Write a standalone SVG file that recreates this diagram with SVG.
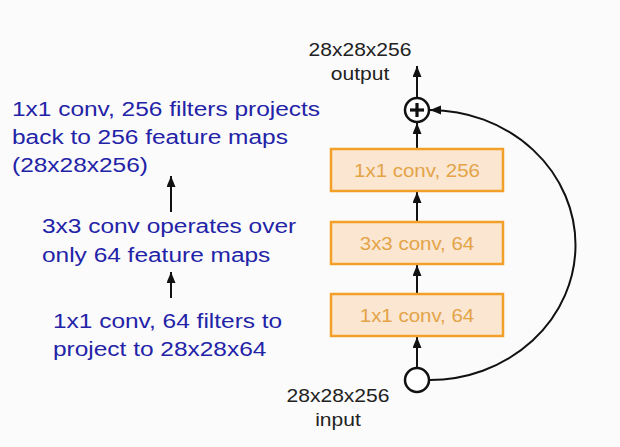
<svg xmlns="http://www.w3.org/2000/svg" width="620" height="447" viewBox="0 0 620 447">
  <defs>
    <marker id="ah" markerUnits="userSpaceOnUse" markerWidth="12" markerHeight="10" refX="11" refY="4.5" orient="auto">
      <path d="M0,0 L11,4.5 L0,9 z" fill="#111"/>
    </marker>
    <style>
      .box rect { fill: #fbe6d2; stroke: #f2a02a; stroke-width: 2.5; }
      .box text { font-family: "Liberation Sans", Arial, sans-serif; font-size: 17.5px; fill: #e3a447; text-anchor: middle; }
      .lbl { font-family: "Liberation Sans", Arial, sans-serif; font-size: 18px; fill: #222; text-anchor: middle; }
      .note { font-family: "Liberation Sans", Arial, sans-serif; font-size: 21px; fill: #2323a8; }
      .conn line, .conn path { stroke: #111; stroke-width: 2; fill: none; }
    </style>
  </defs>
  <rect width="620" height="447" fill="#fbfbfb"/>

  <g id="connectors" class="conn">
    <line x1="417" y1="98" x2="417" y2="66" marker-end="url(#ah)"/>
    <line x1="417" y1="149" x2="417" y2="123" marker-end="url(#ah)"/>
    <line x1="417" y1="222" x2="417" y2="192" marker-end="url(#ah)"/>
    <line x1="417" y1="294" x2="417" y2="265" marker-end="url(#ah)"/>
    <line x1="417" y1="368" x2="417" y2="337" marker-end="url(#ah)"/>
    <path d="M429,380 A146,135 0 0 0 430,110" stroke-width="2.5" marker-end="url(#ah)"/>
    <line x1="171" y1="212" x2="171" y2="176" stroke-width="1.8" marker-end="url(#ah)"/>
    <line x1="171" y1="298" x2="171" y2="272" stroke-width="1.8" marker-end="url(#ah)"/>
  </g>

  <g id="box-1x1-256" class="box">
    <rect x="331" y="149" width="172" height="42"/>
    <text transform="translate(417,177) scale(1.17,1)">1x1 conv, 256</text>
  </g>
  <g id="box-3x3-64" class="box">
    <rect x="331" y="222" width="172" height="42"/>
    <text transform="translate(417,250) scale(1.17,1)">3x3 conv, 64</text>
  </g>
  <g id="box-1x1-64" class="box">
    <rect x="331" y="294" width="172" height="42"/>
    <text transform="translate(417,322) scale(1.17,1)">1x1 conv, 64</text>
  </g>

  <g id="plus">
    <circle cx="417" cy="110" r="12" fill="#fff" stroke="#111" stroke-width="2.5"/>
    <line x1="410" y1="110" x2="424" y2="110" stroke="#111" stroke-width="3.2"/>
    <line x1="417" y1="103" x2="417" y2="117" stroke="#111" stroke-width="3.2"/>
  </g>
  <g id="input-node">
    <circle cx="417" cy="380" r="12" fill="#fff" stroke="#111" stroke-width="2.5"/>
  </g>

  <g id="output-label">
    <text class="lbl" transform="translate(360,56) scale(1.17,1)">28x28x256</text>
    <text class="lbl" transform="translate(360,80) scale(1.17,1)">output</text>
  </g>
  <g id="input-label">
    <text class="lbl" transform="translate(338,402) scale(1.17,1)">28x28x256</text>
    <text class="lbl" transform="translate(338,426) scale(1.17,1)">input</text>
  </g>

  <g id="note-top">
    <text class="note" transform="translate(12,116) scale(1.165,1)">1x1 conv, 256 filters projects</text>
    <text class="note" transform="translate(12,144) scale(1.165,1)">back to 256 feature maps</text>
    <text class="note" transform="translate(12,172) scale(1.165,1)">(28x28x256)</text>
  </g>
  <g id="note-mid">
    <text class="note" transform="translate(42,233) scale(1.165,1)">3x3 conv operates over</text>
    <text class="note" transform="translate(42,262) scale(1.165,1)">only 64 feature maps</text>
  </g>
  <g id="note-bottom">
    <text class="note" transform="translate(53,328) scale(1.165,1)">1x1 conv, 64 filters to</text>
    <text class="note" transform="translate(53,356) scale(1.165,1)">project to 28x28x64</text>
  </g>
</svg>
